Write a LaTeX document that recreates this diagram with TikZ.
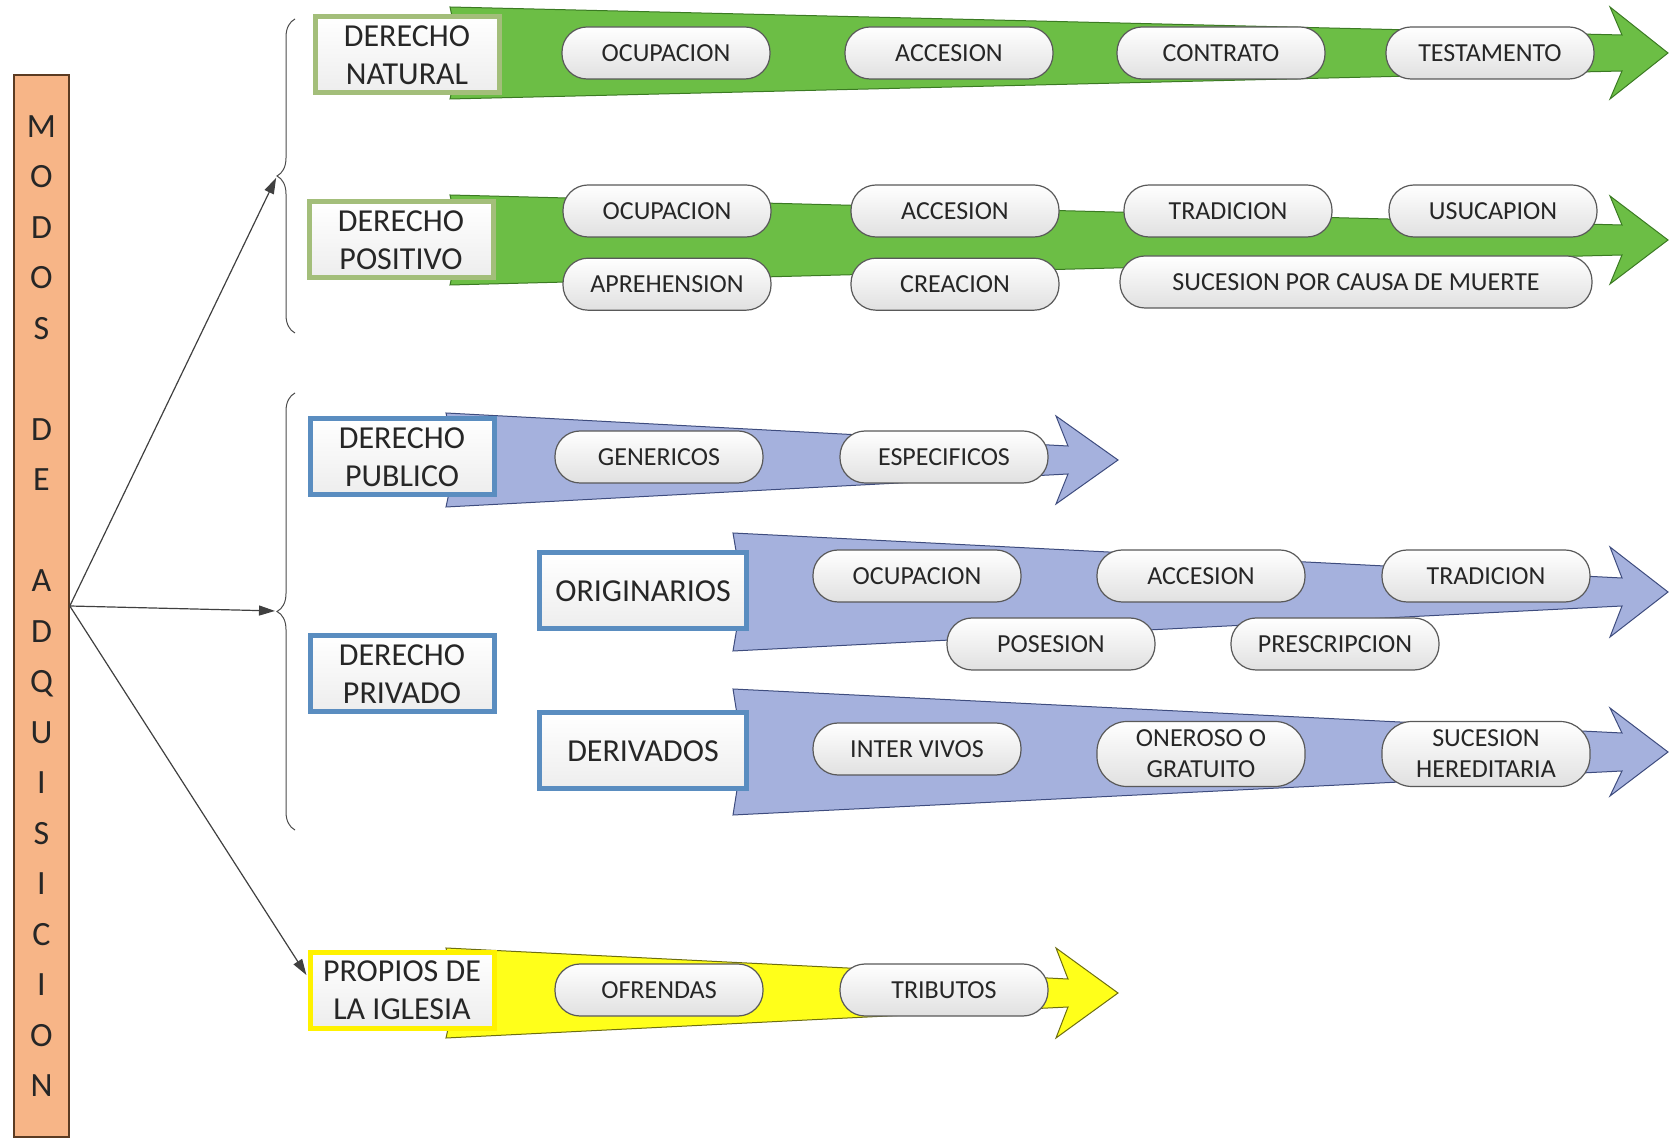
\documentclass[tikz,border=0pt]{standalone}
\usepackage{fontspec}
\setmainfont{Carlito}
\usepackage{tikz}
\usetikzlibrary{arrows.meta,positioning,decorations.pathreplacing}
\definecolor{mgreen}{HTML}{6CBE45}
\definecolor{mgreenline}{HTML}{3B7A23}
\definecolor{mgreenbox}{HTML}{A3BE7A}
\definecolor{mblue}{HTML}{A5B1DD}
\definecolor{mblueline}{HTML}{3E4C7E}
\definecolor{mbluebox}{HTML}{5A8DC0}
\definecolor{myellow}{HTML}{FFFF1A}
\definecolor{myellowline}{HTML}{6E6E10}
\definecolor{morange}{HTML}{F7B587}
\definecolor{morangeline}{HTML}{5B3B22}
% tapered arrow: style, tail x, barb x, tip x, mid y, tail half, shaft half, head half
\newcommand{\taper}[8]{%
  \path[#1] (#2,#5-#6) -- (#3+12,#5-#7) -- (#3,#5-#8) -- (#4,#5)
    -- (#3,#5+#8) -- (#3+12,#5+#7) -- (#2,#5+#6) -- (#2+10,#5) -- cycle;}

\begin{document}
\begin{tikzpicture}[x=0.5pt,y=-0.5pt,
  lbl/.style={draw=#1,line width=2.5pt,top color=white,bottom color=black!7,
              minimum width=92pt,minimum height=38pt,inner sep=1pt,align=center,
              font=\fontsize{16}{19}\selectfont,text=black!85},
  pill/.style={draw=black!65,line width=0.6pt,rounded corners=12.5pt,
               top color=white,bottom color=black!12,minimum width=104pt,
               minimum height=26pt,inner sep=1pt,align=center,
               font=\fontsize{13}{15.5}\selectfont,text=black!85},
  brc/.style={decorate,decoration={brace,amplitude=9pt},draw=black!70,line width=0.5pt},
  conn/.style={-{Triangle[length=8pt,width=5pt]},draw=black!75,line width=0.6pt,shorten >=1pt}
]
\useasboundingbox (0,0) rectangle (1672,1138);

% arrows behind the boxes
\taper{fill=mgreen,draw=mgreenline,line width=0.5pt}{450}{1610}{1668}{53}{46}{18}{46}
\taper{fill=mgreen,draw=mgreenline,line width=0.5pt}{450}{1610}{1668}{240}{45}{15}{44}
\taper{fill=mblue,draw=mblueline,line width=0.5pt}{446}{1056}{1118}{460}{47}{14}{44}
\taper{fill=mblue,draw=mblueline,line width=0.5pt}{733}{1610}{1668}{592}{59}{14}{45}
\taper{fill=mblue,draw=mblueline,line width=0.5pt}{733}{1610}{1668}{752}{63}{19}{44}
\taper{fill=myellow,draw=myellowline,line width=0.5pt}{446}{1056}{1118}{993}{45}{14}{45}

\node[draw=morangeline,fill=morange,line width=0.8pt,minimum width=27.5pt,
      minimum height=531pt,inner sep=0pt,align=center,text=black!85,
      font=\fontsize{17}{25.25}\selectfont] (modos) at (41.5,606)
  {M\\O\\D\\O\\S\\\mbox{}\\D\\E\\\mbox{}\\A\\D\\Q\\U\\I\\S\\I\\C\\I\\O\\N};

\node[lbl=mgreenbox] (nat) at (407,55) {DERECHO\\NATURAL};
\node[lbl=mgreenbox] (pos) at (401,240) {DERECHO\\POSITIVO};
\node[lbl=mbluebox] (pub) at (402,457) {DERECHO\\PUBLICO};
\node[lbl=mbluebox] (priv) at (402,674) {DERECHO\\PRIVADO};
\node[lbl=mbluebox,minimum width=103.5pt] (orig) at (643,591) {ORIGINARIOS};
\node[lbl=mbluebox,minimum width=103.5pt] (deriv) at (643,751) {DERIVADOS};
\node[lbl=yellow] (iglesia) at (402,990) {PROPIOS DE\\LA IGLESIA};

\node[pill] (nocup) at (666,53) {OCUPACION};
\node[pill] (nacc) at (949,53) {ACCESION};
\node[pill] (ncont) at (1221,53) {CONTRATO};
\node[pill] (ntest) at (1490,53) {TESTAMENTO};

\node[pill] (pocup) at (667,211) {OCUPACION};
\node[pill] (pacc) at (955,211) {ACCESION};
\node[pill] (ptrad) at (1228,211) {TRADICION};
\node[pill] (pusu) at (1493,211) {USUCAPION};
\node[pill,below=10pt of pocup] (paprh) {APREHENSION};
\node[pill,below=10pt of pacc] (pcrea) {CREACION};
\node[pill,minimum width=236pt] (psuc) at (1356,282) {SUCESION POR CAUSA DE MUERTE};

\node[pill] (pubgen) at (659,457) {GENERICOS};
\node[pill] (pubesp) at (944,457) {ESPECIFICOS};

\node[pill] (oocup) at (917,576) {OCUPACION};
\node[pill] (oacc) at (1201,576) {ACCESION};
\node[pill] (otrad) at (1486,576) {TRADICION};
\node[pill] (opos) at (1051,644) {POSESION};
\node[pill] (opres) at (1335,644) {PRESCRIPCION};

\node[pill] (dinter) at (917,749) {INTER VIVOS};
\node[pill,minimum height=32.5pt,rounded corners=15pt] (doner) at (1201,754) {ONEROSO O\\GRATUITO};
\node[pill,minimum height=32.5pt,rounded corners=15pt] (dsuc) at (1486,754) {SUCESION\\HEREDITARIA};

\node[pill] (iofr) at (659,990) {OFRENDAS};
\node[pill] (itrib) at (944,990) {TRIBUTOS};

% braces and the three connectors
\draw[brc] (295,333) -- (295,19);
\draw[brc] (295,830) -- (295,393);
\coordinate (bnat) at (277,176);
\coordinate (bpriv) at (277,611);
\draw[conn] (modos.east) -- (bnat);
\draw[conn] (modos.east) -- (bpriv);
\draw[conn] (modos.east) -- (iglesia.172);
\end{tikzpicture}
\end{document}
